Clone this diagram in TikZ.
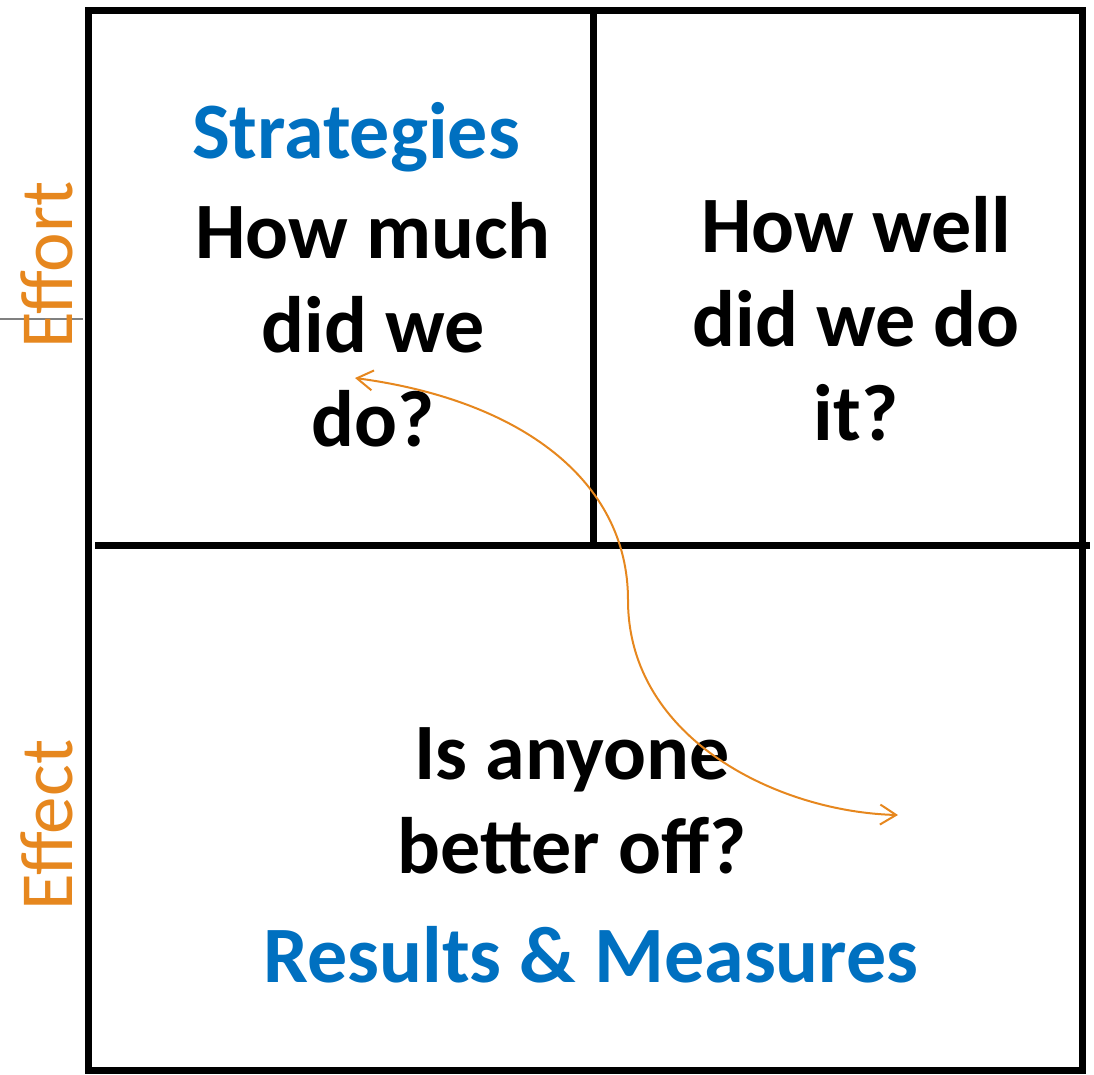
\documentclass[tikz,border=0pt]{standalone}
\usepackage{fontspec}
\setmainfont{Carlito}
\usetikzlibrary{arrows.meta}
\definecolor{effblue}{RGB}{0,112,192}
\definecolor{efforange}{RGB}{230,135,30}
\begin{document}
\begin{tikzpicture}[x=1pt,y=-1pt,
  frame/.style={line width=7pt, black},
  question/.style={font=\fontsize{80}{94}\selectfont\bfseries, align=center, inner sep=0pt, anchor=base},
  heading/.style={font=\fontsize{80}{94}\selectfont\bfseries, text=effblue, inner sep=0pt, anchor=base},
  axislabel/.style={font=\fontsize{75}{84}\selectfont, text=efforange, rotate=90, inner sep=0pt, anchor=base},
  link/.style={draw=efforange, line width=2pt, {Straight Barb[length=16pt,width=20pt]}-{Straight Barb[length=16pt,width=20pt]}}]
\useasboundingbox (0,0) rectangle (1094,1074);
% frame
\draw[frame] (88,10) rectangle (1082,1070);
\draw[frame] (593,10) -- (593,545);
\draw[frame] (95,545) -- (1090,545);
\draw[gray, line width=1.5pt] (0,319) -- (83,319);
% axis labels
\node[axislabel] (effort) at (72,265) {Effort};
\node[axislabel] (effect) at (72,825) {Effect};
% texts
\node[heading] (strat) at (356,158) {Strategies};
\node[question] (howmuch) at (373,446) {How much\\did we\\do?};
\node[question] (howwell) at (856,440) {How well\\did we do\\it?};
\node[question] (anyone) at (572,873) {Is anyone\\better off?};
\node[heading] (results) at (591,982) {Results \& Measures};
% arrow
\coordinate (a1) at (355,378);
\coordinate (a2) at (898,815);
\draw[link] (a1) .. controls (520,400) and (628,480) .. (628,600) .. controls (628,740) and (780,812) .. (a2);
\end{tikzpicture}
\end{document}
